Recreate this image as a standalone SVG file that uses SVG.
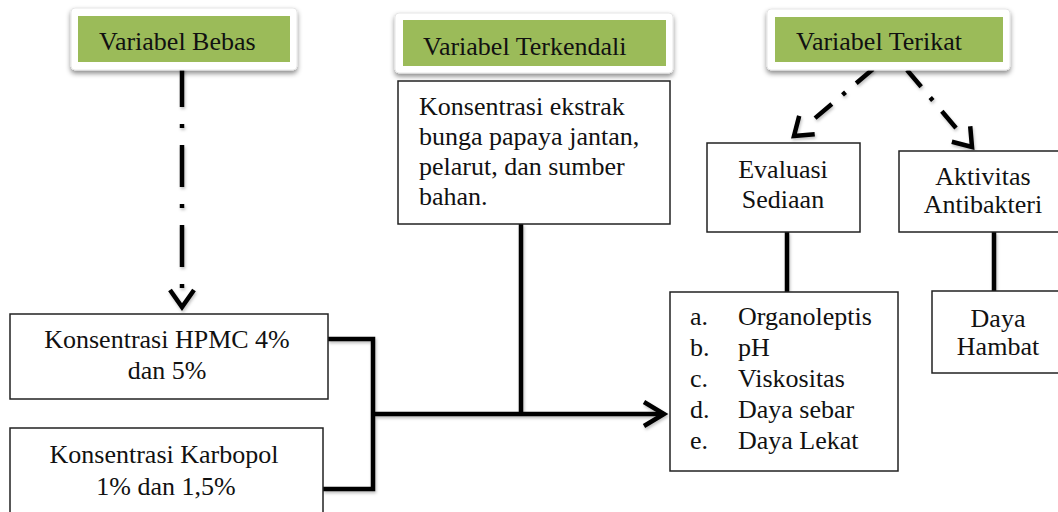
<svg xmlns="http://www.w3.org/2000/svg" width="1058" height="512" viewBox="0 0 1058 512" font-family="Liberation Serif, serif" font-size="26">
<style>
text{fill:#111}
.c{text-anchor:middle}
.box{fill:#fff;stroke:#222;stroke-width:1.5}
.hdr{fill:#fff;stroke:#e6e6e6;stroke-width:1}
.grn{fill:#9BBB59}
.ln{fill:none;stroke:#000;stroke-width:4.5;stroke-linejoin:miter}
</style>
<defs>
<filter id="sh" x="-10%" y="-20%" width="120%" height="160%"><feDropShadow dx="0" dy="3" stdDeviation="2.5" flood-color="#000" flood-opacity="0.45"/></filter>
<filter id="lsh" x="-10%" y="-10%" width="120%" height="120%"><feDropShadow dx="1" dy="2" stdDeviation="1.5" flood-color="#000" flood-opacity="0.25"/></filter>
<marker id="ah" markerUnits="userSpaceOnUse" markerWidth="30" markerHeight="30" viewBox="-22 -15 26 30" refX="0" refY="0" orient="auto" overflow="visible">
<path d="M -17 -12 L 0 0 L -17 12" fill="none" stroke="#000" stroke-width="4.5" stroke-dasharray="none"/>
</marker>
<marker id="ah2" markerUnits="userSpaceOnUse" markerWidth="30" markerHeight="30" viewBox="-24 -15 28 30" refX="0" refY="0" orient="auto" overflow="visible">
<path d="M -20 -12 L 0 0 L -20 12" fill="none" stroke="#000" stroke-width="4.5"/>
</marker>
</defs>
<g id="connectors" filter="url(#lsh)">
<path class="ln" d="M 182 65 V 307" stroke-dasharray="42 17 4 17 42 17 4 17 42 17 4 60" marker-end="url(#ah)"/>
<path class="ln" d="M 873 69 L 794 136" stroke-dasharray="22 14 4 14 22 60" marker-end="url(#ah)"/>
<path class="ln" d="M 907 70 L 972 147" stroke-dasharray="22 14 4 14 22 60" marker-end="url(#ah)"/>
<path class="ln" d="M 328 339 H 373 V 489 H 323"/>
<path class="ln" d="M 373 414 H 664" marker-end="url(#ah2)"/>
<path class="ln" d="M 521 224 V 414"/>
<path class="ln" d="M 787 232 V 292"/>
<path class="ln" d="M 994 232 V 291"/>
</g>
<g id="var-bebas">
<rect class="hdr" x="71" y="8" width="226" height="62" rx="4" filter="url(#sh)"/>
<rect class="grn" x="78" y="16" width="212" height="46"/>
<text x="99" y="50">Variabel Bebas</text>
</g>
<g id="var-terkendali">
<rect class="hdr" x="395" y="13" width="278" height="60" rx="4" filter="url(#sh)"/>
<rect class="grn" x="403" y="20" width="263" height="46"/>
<text x="423" y="55">Variabel Terkendali</text>
</g>
<g id="var-terikat">
<rect class="hdr" x="767" y="9" width="243" height="61" rx="4" filter="url(#sh)"/>
<rect class="grn" x="775" y="17" width="228" height="45"/>
<text x="796" y="50">Variabel Terikat</text>
</g>
<g id="terkendali-box">
<rect class="box" x="398" y="81" width="272" height="143"/>
<text x="419" y="115">Konsentrasi ekstrak</text>
<text x="419" y="145">bunga papaya jantan,</text>
<text x="419" y="175">pelarut, dan sumber</text>
<text x="419" y="205">bahan.</text>
</g>
<g id="hpmc">
<rect class="box" x="10" y="314" width="318" height="85"/>
<text class="c" x="167" y="348">Konsentrasi HPMC 4%</text>
<text class="c" x="167" y="379">dan 5%</text>
</g>
<g id="karbopol">
<rect class="box" x="10" y="428" width="313" height="90"/>
<text class="c" x="164" y="463">Konsentrasi Karbopol</text>
<text class="c" x="166" y="495">1% dan 1,5%</text>
</g>
<g id="evaluasi">
<rect class="box" x="707" y="143" width="153" height="89"/>
<text class="c" x="783" y="178">Evaluasi</text>
<text class="c" x="783" y="208">Sediaan</text>
</g>
<g id="aktivitas">
<rect class="box" x="899" y="151" width="165" height="81"/>
<text class="c" x="983" y="185">Aktivitas</text>
<text class="c" x="983" y="213">Antibakteri</text>
</g>
<g id="daya-hambat">
<rect class="box" x="932" y="291" width="132" height="82"/>
<text class="c" x="998" y="327">Daya</text>
<text class="c" x="998" y="355">Hambat</text>
</g>
<g id="evaluasi-list">
<rect class="box" x="670" y="292" width="228" height="179"/>
<text x="690" y="325">a.</text><text x="738" y="325">Organoleptis</text>
<text x="690" y="356">b.</text><text x="738" y="356">pH</text>
<text x="690" y="387">c.</text><text x="738" y="387">Viskositas</text>
<text x="690" y="418">d.</text><text x="738" y="418">Daya sebar</text>
<text x="690" y="449">e.</text><text x="738" y="449">Daya Lekat</text>
</g>
</svg>
